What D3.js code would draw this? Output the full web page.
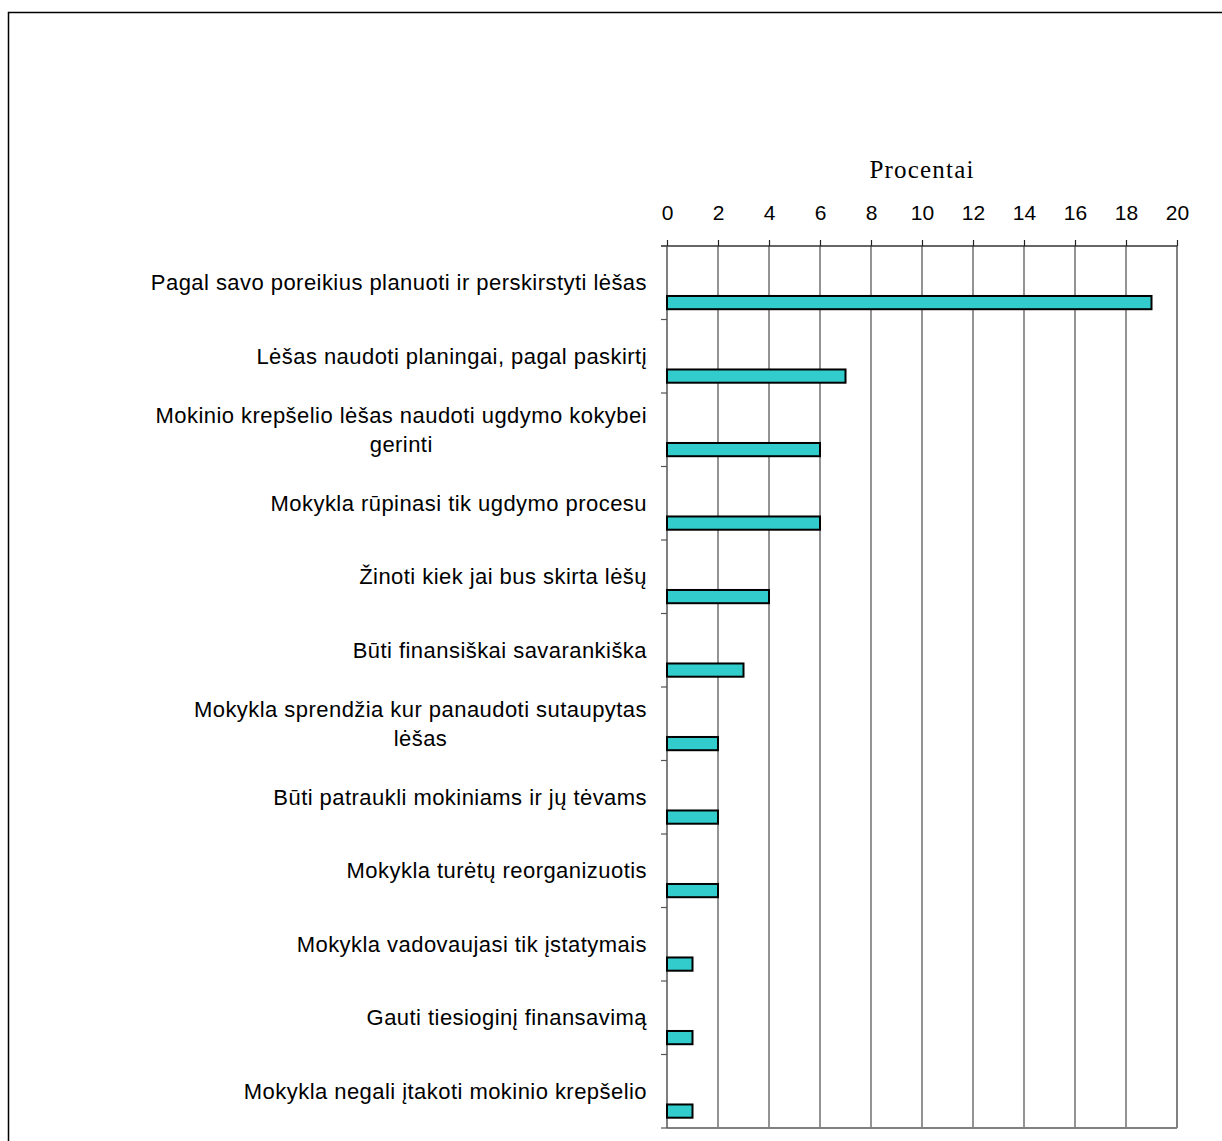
<!DOCTYPE html>
<html>
<head>
<meta charset="utf-8">
<script src="https://cdn.jsdelivr.net/npm/d3@7"></script>
<style>
  html, body { margin: 0; padding: 0; background: #fff; }
  svg { display: block; }
</style>
</head>
<body>
<svg id="chart" width="1222" height="1141"></svg>
<script>
// Survey answers (categories), top to bottom
const categories = [
  "Pagal savo poreikius planuoti ir perskirstyti lėšas",
  "Lėšas naudoti planingai, pagal paskirtį",
  "Mokinio krepšelio lėšas naudoti ugdymo kokybei gerinti",
  "Mokykla rūpinasi tik ugdymo procesu",
  "Žinoti kiek jai bus skirta lėšų",
  "Būti finansiškai savarankiška",
  "Mokykla sprendžia kur panaudoti sutaupytas lėšas",
  "Būti patraukli mokiniams ir jų tėvams",
  "Mokykla turėtų reorganizuotis",
  "Mokykla vadovaujasi tik įstatymais",
  "Gauti tiesioginį finansavimą",
  "Mokykla negali įtakoti mokinio krepšelio"
];
// Share of answers, percent
const values = [19, 7, 6, 6, 4, 3, 2, 2, 2, 1, 1, 1];
const xTicks = [0, 2, 4, 6, 8, 10, 12, 14, 16, 18, 20];
const axisTitle = "Procentai";

const svg = d3.select("#chart");

// outer chart frame
svg.append("rect")
  .attr("x", 8.5).attr("y", 12.5)
  .attr("width", 1300).attr("height", 1200)
  .attr("fill", "#fff").attr("stroke", "#000").attr("stroke-width", 1.5);

const plotL = 667, plotR = 1177, plotT = 246, plotB = 1128;

const x = d3.scaleLinear().domain([0, 20]).range([plotL, plotR]);
const y = d3.scaleBand().domain(categories).range([plotT, plotB]).paddingInner(0).paddingOuter(0);

// vertical gridlines
svg.append("g").selectAll("line").data(xTicks.slice(1)).join("line")
  .attr("x1", d => x(d)).attr("x2", d => x(d))
  .attr("y1", plotT).attr("y2", plotB)
  .attr("stroke", "#5a5a5a").attr("stroke-width", 1.3);

// right and bottom plot edges
svg.append("line").attr("x1", plotR).attr("x2", plotR).attr("y1", plotT).attr("y2", plotB)
  .attr("stroke", "#808080").attr("stroke-width", 2);
svg.append("line").attr("x1", plotL).attr("x2", plotR).attr("y1", plotB).attr("y2", plotB)
  .attr("stroke", "#808080").attr("stroke-width", 2);

// top value axis
const xAxis = d3.axisTop(x).tickValues(xTicks).tickSize(6).tickPadding(20).tickFormat(d3.format("d"));
const gx = svg.append("g").attr("transform", `translate(0,${plotT})`).call(xAxis);
gx.select(".domain").attr("stroke", "#333").attr("stroke-width", 1.5)
  .attr("d", `M${plotL - 6},0H${plotR}`);
gx.selectAll(".tick line").attr("stroke", "#222").attr("stroke-width", 1.2);
gx.selectAll(".tick text")
  .attr("font-family", "'Liberation Sans', Arial, sans-serif")
  .attr("font-size", 21).attr("fill", "#000");

// axis title
svg.append("text")
  .attr("x", (plotL + plotR) / 2).attr("y", 178)
  .attr("text-anchor", "middle")
  .attr("font-family", "'Liberation Serif', 'Times New Roman', serif")
  .attr("font-size", 25).attr("letter-spacing", 1.2).attr("fill", "#000")
  .text(axisTitle);

// left category axis (ticks at band boundaries)
svg.append("line").attr("x1", plotL).attr("x2", plotL).attr("y1", plotT).attr("y2", plotB)
  .attr("stroke", "#555").attr("stroke-width", 1.5);
const boundaries = categories.map(c => y(c)).concat([plotB]);
svg.append("g").selectAll("line").data(boundaries).join("line")
  .attr("x1", plotL - 6).attr("x2", plotL)
  .attr("y1", d => d).attr("y2", d => d)
  .attr("stroke", "#555").attr("stroke-width", 1.2);

// bars
const bw = y.bandwidth();
svg.append("g").selectAll("rect").data(values).join("rect")
  .attr("x", x(0))
  .attr("y", (d, i) => y(categories[i]) + bw * 0.68)
  .attr("width", d => x(d) - x(0))
  .attr("height", bw * 0.18)
  .attr("fill", "#33CCCC").attr("stroke", "#000").attr("stroke-width", 2);

// category labels, wrapped and centered within a right-aligned block
const labelFont = "'Liberation Sans', Arial, sans-serif";
const labelSize = 22, labelSpacing = 0.45, lineH = 29, maxW = 510, labelRight = 647;
const measurer = svg.append("text").attr("font-family", labelFont).attr("font-size", labelSize)
  .attr("letter-spacing", labelSpacing).attr("visibility", "hidden");
function textW(s) { measurer.text(s); return measurer.node().getComputedTextLength(); }
function wrap(s) {
  const words = s.split(" "); const lines = []; let cur = "";
  words.forEach(w => {
    const t = cur ? cur + " " + w : w;
    if (textW(t) > maxW && cur) { lines.push(cur); cur = w; } else cur = t;
  });
  lines.push(cur);
  return lines;
}
const lg = svg.append("g");
categories.forEach(c => {
  const lines = wrap(c);
  const widths = lines.map(textW);
  const blockW = d3.max(widths);
  const cx = labelRight - blockW / 2;
  const cy = y(c) + bw / 2;
  lines.forEach((ln, k) => {
    lg.append("text")
      .attr("x", cx)
      .attr("y", cy + (k - (lines.length - 1) / 2) * lineH)
      .attr("dy", "0.35em")
      .attr("text-anchor", "middle")
      .attr("font-family", labelFont).attr("font-size", labelSize)
      .attr("letter-spacing", labelSpacing).attr("fill", "#000")
      .text(ln);
  });
});
measurer.remove();
</script>
</body>
</html>
